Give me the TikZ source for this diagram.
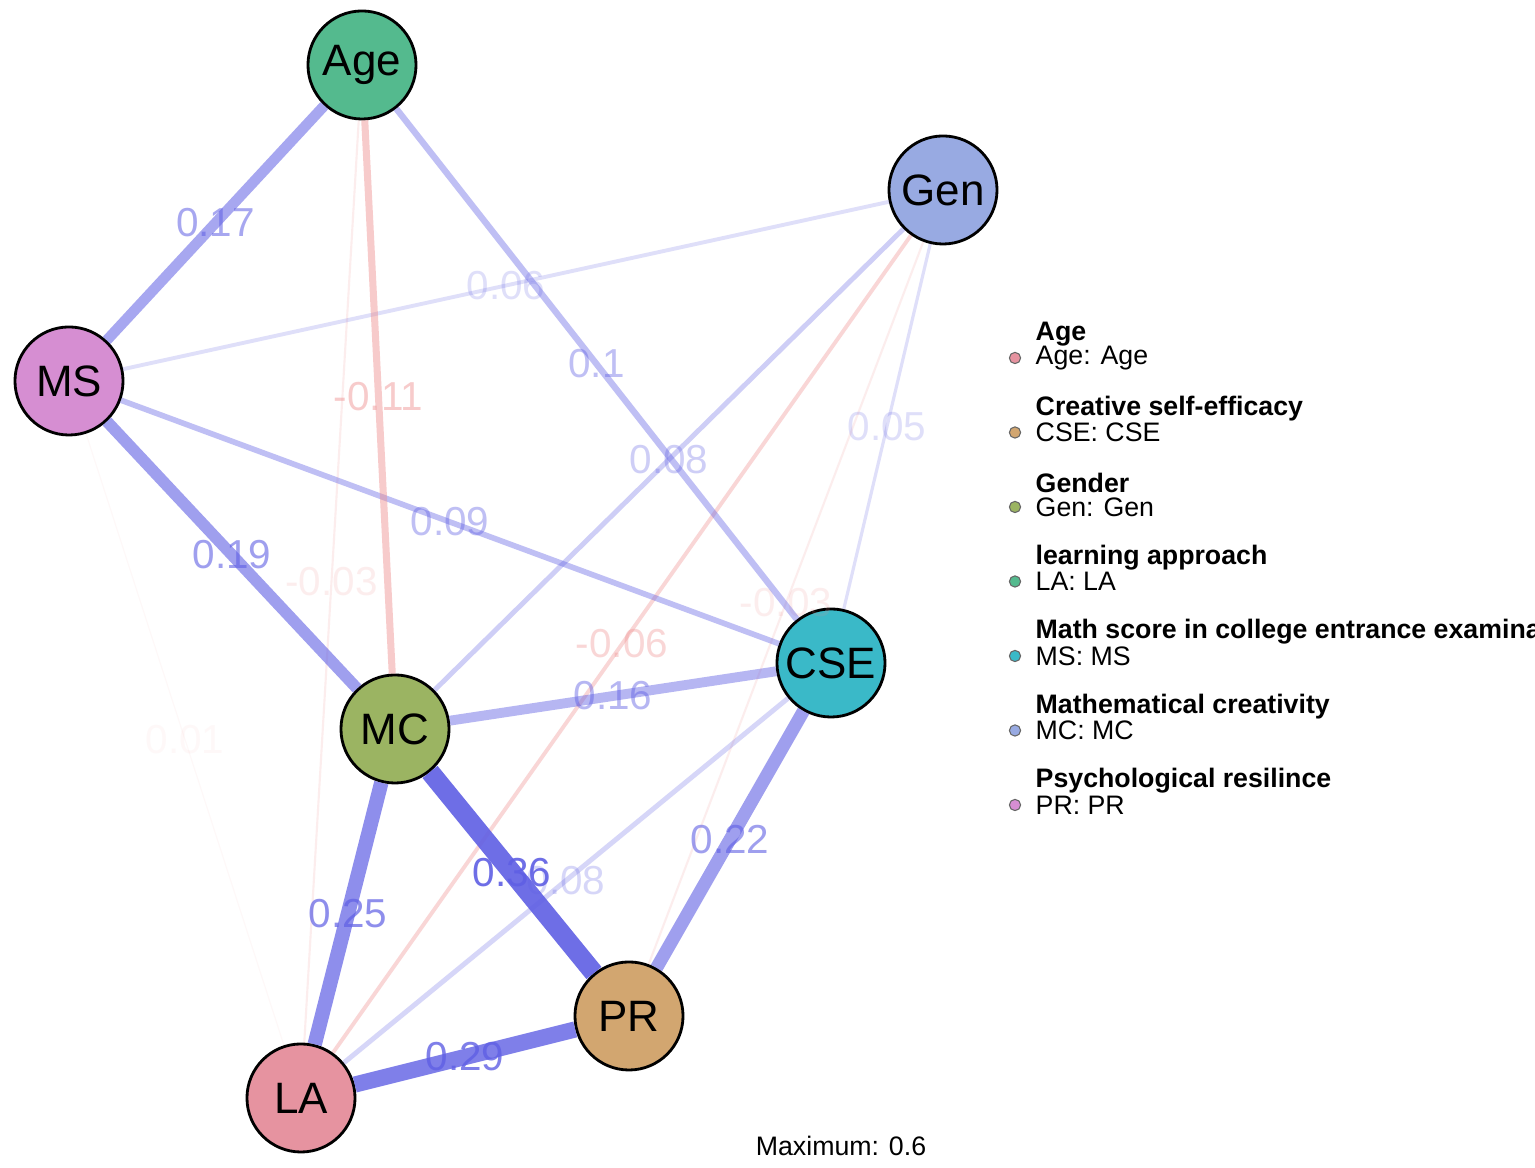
\documentclass[tikz,border=0pt]{standalone}
\usepackage{fontspec}
\setmainfont{Liberation Sans}
\definecolor{posc}{RGB}{95,95,228}
\definecolor{negc}{RGB}{238,140,140}
\definecolor{cAge}{RGB}{84,186,142}
\definecolor{cGen}{RGB}{152,170,226}
\definecolor{cMS}{RGB}{214,142,210}
\definecolor{cCSE}{RGB}{58,185,200}
\definecolor{cMC}{RGB}{155,180,98}
\definecolor{cPR}{RGB}{210,166,112}
\definecolor{cLA}{RGB}{230,147,160}
\tikzset{
  var/.style={circle,draw=black,line width=0.8pt,minimum size=1.08cm,inner sep=0pt,font=\fontsize{12.5}{14}\selectfont},
  elab/.style={font=\fontsize{11.5}{13}\selectfont,inner sep=0pt},
  dot/.style={circle,draw=black!60,line width=0.3pt,minimum size=3.2pt,inner sep=0pt},
  leg/.style={anchor=west,font=\fontsize{7.6}{9}\selectfont,inner sep=0pt}
}
\begin{document}
\begin{tikzpicture}[x=0.01cm,y=-0.01cm]
        \useasboundingbox[fill=white] (0,0) rectangle (1535,1168);
        \node[var,fill=cAge] (Age) at (362,65) {Age};
        \node[var,fill=cGen] (Gen) at (943,190) {Gen};
        \node[var,fill=cMS] (MS) at (69,381) {MS};
        \node[var,fill=cCSE] (CSE) at (831,663) {CSE};
        \node[var,fill=cMC] (MC) at (395,729) {MC};
        \node[var,fill=cPR] (PR) at (629,1016) {PR};
        \node[var,fill=cLA] (LA) at (301,1098) {LA};
        % edges: from/to/label/width/opacity/colour
        \foreach \a/\b/\l/\w/\o/\c in {MS/LA/0.01/0.3/0.06/negc, Age/LA/-0.03/0.6/0.15/negc,
            Gen/PR/-0.03/0.6/0.15/negc, Gen/CSE/0.05/0.9/0.2/posc, MS/Gen/0.06/1.1/0.2/posc,
            Gen/LA/-0.06/1.1/0.35/negc, Gen/MC/0.08/1.4/0.3/posc, CSE/LA/0.08/1.4/0.25/posc,
            MS/CSE/0.09/1.6/0.4/posc, Age/CSE/0.1/1.8/0.4/posc, Age/MC/-0.11/2/0.45/negc,
            MC/CSE/0.16/2.8/0.45/posc, Age/MS/0.17/3/0.55/posc, MS/MC/0.19/3.3/0.6/posc,
            CSE/PR/0.22/3.7/0.6/posc, MC/LA/0.25/4.1/0.7/posc, LA/PR/0.29/4.6/0.8/posc,
            MC/PR/0.36/5.5/0.9/posc}
          \draw[\c,line width=\w pt,draw opacity=\o] (\a) -- node[elab,text=\c,text opacity=\o] {\l} (\b);
        % legend
        \foreach \t/\s/\c [count=\i from 0] in {Age/Age: Age/cLA, Creative self-efficacy/CSE: CSE/cPR,
            Gender/Gen: Gen/cMC, learning approach/LA: LA/cAge,
            Math score in college entrance examinatio/MS: MS/cCSE,
            Mathematical creativity/MC: MC/cGen, Psychological resilince/PR: PR/cMS} {
          \node[leg,font=\fontsize{7.6}{9}\selectfont\bfseries] (t\i) at (1035,334+74.5*\i) {\t};
          \node[dot,fill=\c] (d\i) at (1015,358+74.5*\i) {};
          \node[leg] (s\i) at (1035,358+74.5*\i) {\s};
        }
        \node[font=\fontsize{7.6}{9}\selectfont] (max) at (841,1146) {Maximum: 0.6};
    \end{tikzpicture}
\end{document}
